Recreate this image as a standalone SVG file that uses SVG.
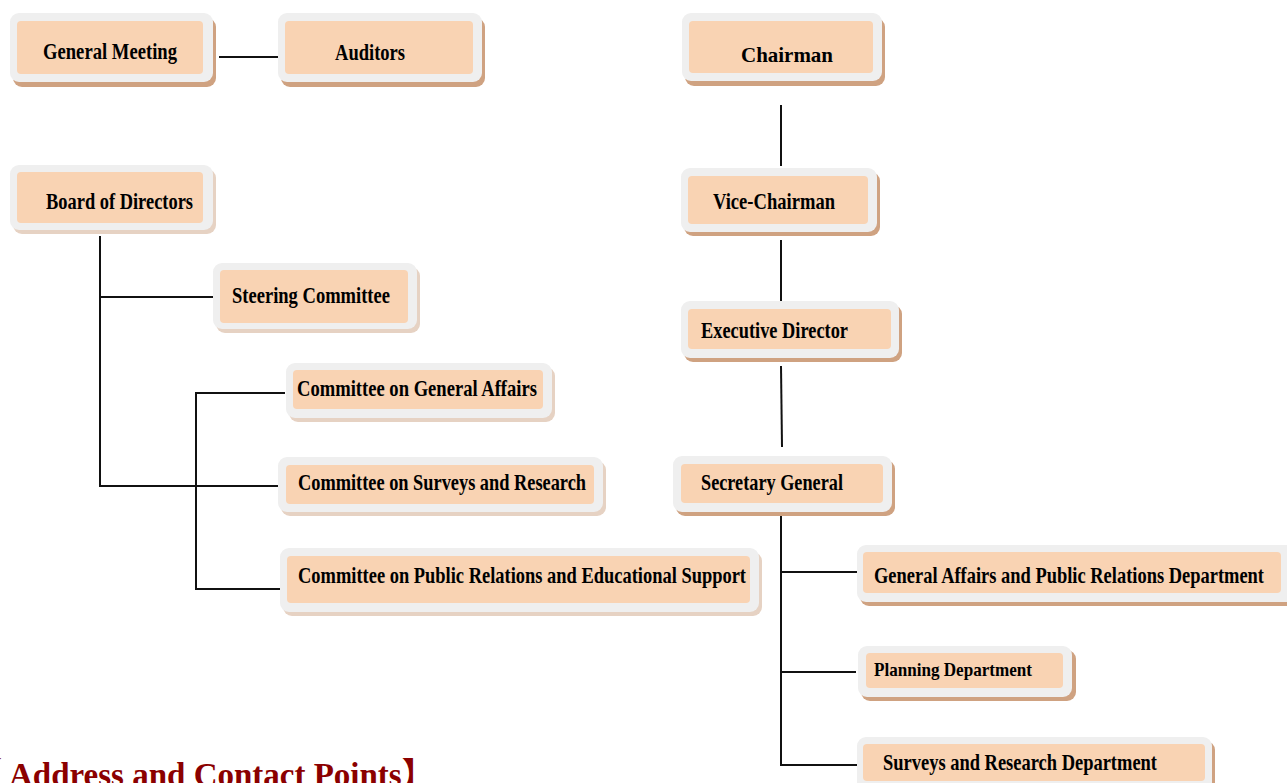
<svg xmlns="http://www.w3.org/2000/svg" width="1287" height="783" viewBox="0 0 1287 783">
<style>
.outer{fill:#efefef}
.inner{fill:#f9d3b3}
.shd{fill:#cfa281}
.shl{fill:#e6d2c3}
.t{font-family:"Liberation Serif","Times New Roman",serif;font-weight:bold;font-size:23px;fill:#000}
.ln{stroke:#111;stroke-width:2;fill:none}
.title{font-family:"Liberation Serif","Noto Sans CJK SC",serif;font-weight:bold;font-size:33px;fill:#8b0000}
</style>
<rect width="1287" height="783" fill="#fff"/>
<g id="connectors">
<line class="ln" x1="219" y1="57" x2="282" y2="57"/>
<line class="ln" x1="781" y1="105" x2="781" y2="166"/>
<line class="ln" x1="781" y1="240" x2="781" y2="302"/>
<line class="ln" x1="781" y1="366" x2="782" y2="447"/>
<path class="ln" d="M781 516 V765 H857 M781 572 H857 M781 672 H856"/>
<path class="ln" d="M100 236 V486 H282 M100 297 H214"/>
<path class="ln" d="M285 393 H196 V589 H287"/>
</g>
<g id="general-meeting">
<rect class="shd" x="13" y="18" width="203" height="69" rx="9"/>
<rect class="outer" x="10" y="13" width="203" height="69" rx="9"/>
<rect class="inner" x="17" y="21" width="186" height="53" rx="4"/>
<text class="t" x="43" y="59" textLength="134" lengthAdjust="spacingAndGlyphs">General Meeting</text>
</g>
<g id="auditors">
<rect class="shd" x="281" y="18" width="204" height="69" rx="9"/>
<rect class="outer" x="278" y="13" width="204" height="69" rx="9"/>
<rect class="inner" x="285" y="21" width="188" height="53" rx="4"/>
<text class="t" x="335" y="60" textLength="70" lengthAdjust="spacingAndGlyphs">Auditors</text>
</g>
<g id="chairman">
<rect class="shd" x="685" y="18" width="200" height="68" rx="9"/>
<rect class="outer" x="682" y="13" width="200" height="68" rx="9"/>
<rect class="inner" x="689" y="21" width="184" height="52" rx="4"/>
<text class="t" x="741" y="62" style="font-size:22px" textLength="92" lengthAdjust="spacingAndGlyphs">Chairman</text>
</g>
<g id="vice-chairman">
<rect class="shd" x="684" y="172" width="196" height="64" rx="9"/>
<rect class="outer" x="681" y="168" width="196" height="64" rx="9"/>
<rect class="inner" x="688" y="176" width="180" height="48" rx="4"/>
<text class="t" x="713" y="209" textLength="122" lengthAdjust="spacingAndGlyphs">Vice-Chairman</text>
</g>
<g id="executive-director">
<rect class="shd" x="684" y="305" width="218" height="57" rx="9"/>
<rect class="outer" x="681" y="301" width="218" height="57" rx="9"/>
<rect class="inner" x="688" y="309" width="203" height="40" rx="4"/>
<text class="t" x="701" y="338" textLength="147" lengthAdjust="spacingAndGlyphs">Executive Director</text>
</g>
<g id="secretary-general">
<rect class="shd" x="676" y="460" width="219" height="56" rx="9"/>
<rect class="outer" x="673" y="456" width="219" height="56" rx="9"/>
<rect class="inner" x="681" y="464" width="202" height="39" rx="4"/>
<text class="t" x="701" y="490" textLength="142" lengthAdjust="spacingAndGlyphs">Secretary General</text>
</g>
<g id="general-affairs-pr-dept">
<rect class="shd" x="860" y="549" width="440" height="57" rx="9"/>
<rect class="outer" x="857" y="545" width="440" height="57" rx="9"/>
<rect class="inner" x="863" y="552" width="418" height="41" rx="4"/>
<text class="t" x="874" y="583" textLength="390" lengthAdjust="spacingAndGlyphs">General Affairs and Public Relations Department</text>
</g>
<g id="planning-dept">
<rect class="shd" x="861" y="650" width="215" height="51" rx="9"/>
<rect class="outer" x="858" y="646" width="214" height="51" rx="9"/>
<rect class="inner" x="866" y="653" width="197" height="35" rx="4"/>
<text class="t" x="874" y="676" style="font-size:19px" textLength="158" lengthAdjust="spacingAndGlyphs">Planning Department</text>
</g>
<g id="surveys-research-dept">
<rect class="shd" x="860" y="741" width="355" height="60" rx="9"/>
<rect class="outer" x="857" y="737" width="355" height="60" rx="9"/>
<rect class="inner" x="863" y="744" width="342" height="37" rx="4"/>
<text class="t" x="883" y="770" textLength="274" lengthAdjust="spacingAndGlyphs">Surveys and Research Department</text>
</g>
<g id="board-of-directors">
<rect class="shl" x="13" y="169" width="203" height="65" rx="9"/>
<rect class="outer" x="10" y="165" width="203" height="65" rx="9"/>
<rect class="inner" x="17" y="172" width="186" height="51" rx="4"/>
<text class="t" x="46" y="209" textLength="147" lengthAdjust="spacingAndGlyphs">Board of Directors</text>
</g>
<g id="steering-committee">
<rect class="shl" x="216" y="267" width="204" height="66" rx="9"/>
<rect class="outer" x="213" y="263" width="204" height="66" rx="9"/>
<rect class="inner" x="220" y="270" width="188" height="53" rx="4"/>
<text class="t" x="232" y="303" textLength="158" lengthAdjust="spacingAndGlyphs">Steering Committee</text>
</g>
<g id="committee-general-affairs">
<rect class="shl" x="289" y="367" width="266" height="55" rx="9"/>
<rect class="outer" x="286" y="363" width="266" height="55" rx="9"/>
<rect class="inner" x="293" y="370" width="250" height="39" rx="4"/>
<text class="t" x="297" y="396" textLength="240" lengthAdjust="spacingAndGlyphs">Committee on General Affairs</text>
</g>
<g id="committee-surveys-research">
<rect class="shl" x="281" y="461" width="325" height="55" rx="9"/>
<rect class="outer" x="278" y="457" width="325" height="55" rx="9"/>
<rect class="inner" x="286" y="465" width="308" height="39" rx="4"/>
<text class="t" x="298" y="490" textLength="288" lengthAdjust="spacingAndGlyphs">Committee on Surveys and Research</text>
</g>
<g id="committee-pr-education">
<rect class="shl" x="283" y="552" width="479" height="64" rx="9"/>
<rect class="outer" x="280" y="548" width="479" height="64" rx="9"/>
<rect class="inner" x="287" y="556" width="463" height="47" rx="4"/>
<text class="t" x="298" y="583" textLength="448" lengthAdjust="spacingAndGlyphs">Committee on Public Relations and Educational Support</text>
</g>
<text class="title" y="786"><tspan x="-31">【</tspan><tspan x="9">Address and Contact Points】</tspan></text>
</svg>
